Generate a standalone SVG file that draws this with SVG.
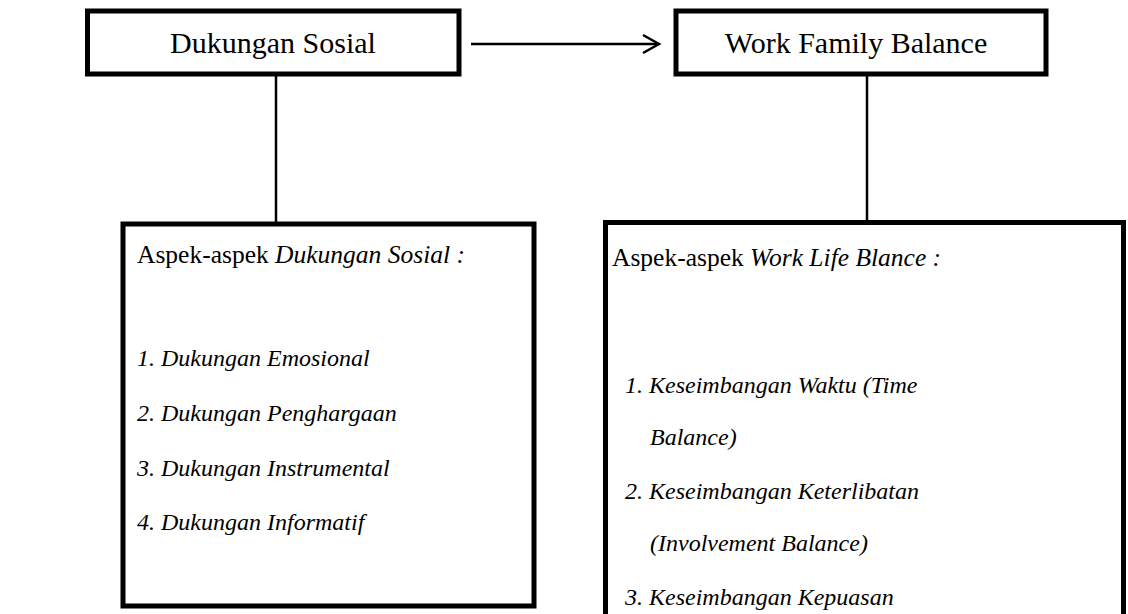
<svg xmlns="http://www.w3.org/2000/svg" width="1128" height="614" viewBox="0 0 1128 614">
<style>
.box{fill:#fff;stroke:#000;stroke-width:5}
.ln{stroke:#000;stroke-width:2.5;fill:none}
.t{font-family:"Liberation Serif","Times New Roman",serif;font-size:24px;fill:#000}
.h{font-size:30px}
.a{font-size:25.5px}
.i{font-style:italic}
</style>
<rect width="1128" height="614" fill="#fff"/>
<g id="connectors">
<line class="ln" x1="471" y1="44" x2="659" y2="44"/>
<polyline class="ln" points="643,35 659,44 643,53"/>
<line class="ln" x1="276" y1="74" x2="276" y2="224"/>
<line class="ln" x1="867" y1="74" x2="867" y2="222"/>
</g>
<g id="dukungan-sosial">
<rect class="box" x="87.5" y="11" width="371.5" height="63"/>
<text class="t h" x="273" y="53" text-anchor="middle">Dukungan Sosial</text>
</g>
<g id="work-family-balance">
<rect class="box" x="676" y="11" width="370" height="63"/>
<text class="t h" x="856" y="53" text-anchor="middle">Work Family Balance</text>
</g>
<g id="aspek-dukungan">
<rect class="box" x="123" y="224" width="411" height="382"/>
<text class="t a" x="137" y="263">Aspek-aspek <tspan class="i">Dukungan Sosial :</tspan></text>
<text class="t i" x="137" y="366">1. Dukungan Emosional</text>
<text class="t i" x="137" y="421">2. Dukungan Penghargaan</text>
<text class="t i" x="137" y="476">3. Dukungan Instrumental</text>
<text class="t i" x="137" y="530">4. Dukungan Informatif</text>
</g>
<g id="aspek-wlb">
<rect class="box" x="605.5" y="222.5" width="518" height="400"/>
<text class="t a" x="612" y="266">Aspek-aspek <tspan class="i">Work Life Blance :</tspan></text>
<text class="t i" x="625" y="393">1. Keseimbangan Waktu (Time</text>
<text class="t i" x="650" y="445">Balance)</text>
<text class="t i" x="625" y="499">2. Keseimbangan Keterlibatan</text>
<text class="t i" x="650" y="551">(Involvement Balance)</text>
<text class="t i" x="625" y="605">3. Keseimbangan Kepuasan</text>
</g>
</svg>
